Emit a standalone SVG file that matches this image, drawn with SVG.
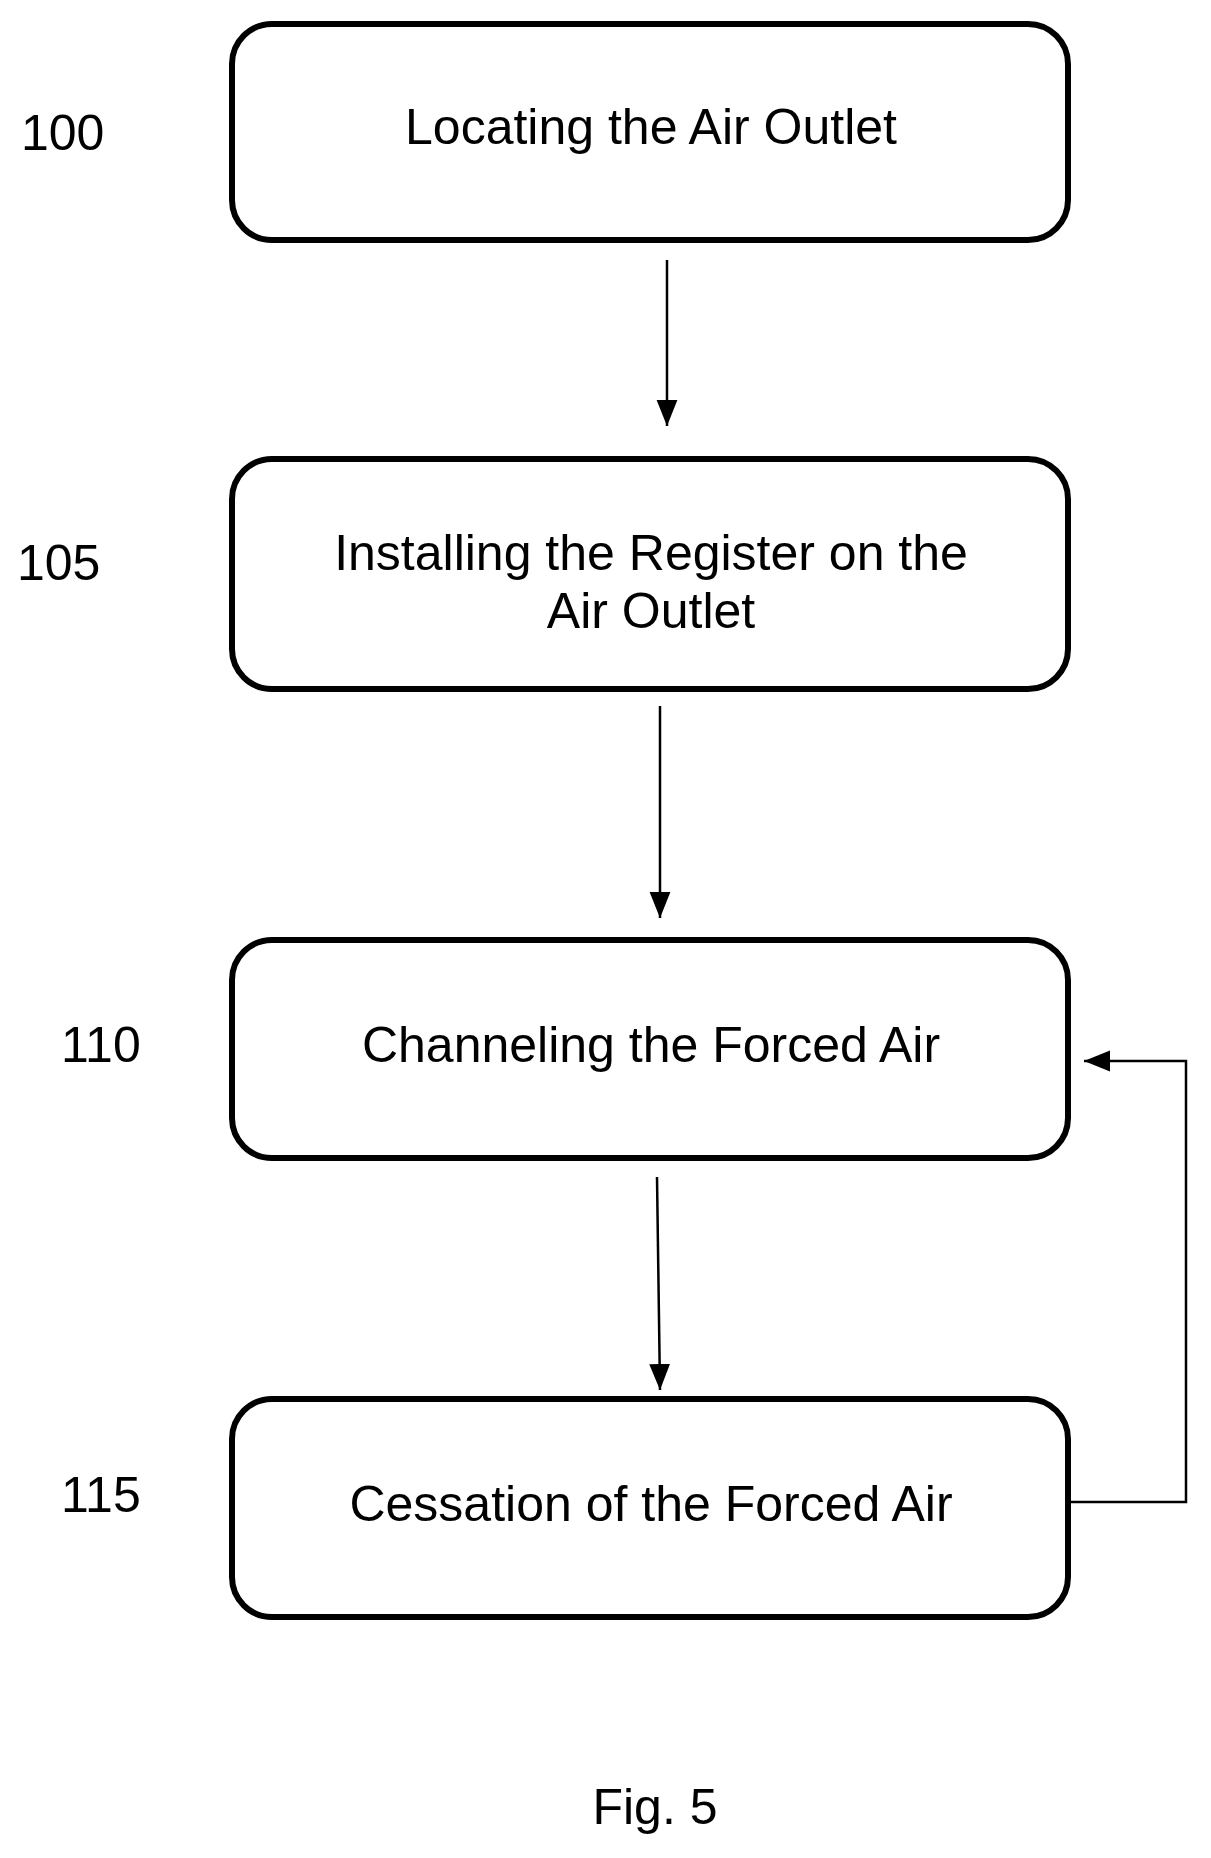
<svg xmlns="http://www.w3.org/2000/svg" width="1211" height="1858" viewBox="0 0 1211 1858">
<style>
.b{fill:#fff;stroke:#000;stroke-width:6}
.t{font-family:"Liberation Sans",Arial,sans-serif;font-size:50px;fill:#000;text-anchor:middle}
.l{font-family:"Liberation Sans",Arial,sans-serif;font-size:50px;fill:#000}
.c{fill:none;stroke:#000;stroke-width:2.5}
</style>
<defs><marker id="ah" viewBox="0 0 10 10" refX="10" refY="5" markerWidth="26" markerHeight="26" markerUnits="userSpaceOnUse" orient="auto"><path d="M0,1L10,5L0,9z"/></marker></defs>
<g id="n100"><rect class="b" x="232" y="24" width="836" height="216" rx="40"/><text class="t" x="651" y="144">Locating the Air Outlet</text><text class="l" x="21" y="150">100</text></g>
<g id="n105"><rect class="b" x="232" y="459" width="836" height="230" rx="40"/><text class="t" x="651" y="570">Installing the Register on the</text><text class="t" x="651" y="628">Air Outlet</text><text class="l" x="17" y="580">105</text></g>
<g id="n110"><rect class="b" x="232" y="940" width="836" height="218" rx="40"/><text class="t" x="651" y="1062">Channeling the Forced Air</text><text class="l" x="61" y="1062">110</text></g>
<g id="n115"><rect class="b" x="232" y="1399" width="836" height="218" rx="40"/><text class="t" x="651" y="1521">Cessation of the Forced Air</text><text class="l" x="61" y="1512">115</text></g>
<text class="t" x="655" y="1824">Fig. 5</text>
<g id="connectors">
<path class="c" d="M667,260V426" marker-end="url(#ah)"/>
<path class="c" d="M660,706V918" marker-end="url(#ah)"/>
<path class="c" d="M657,1177L660,1390" marker-end="url(#ah)"/>
<path class="c" d="M1068,1502H1186V1061H1084" marker-end="url(#ah)"/>
</g>
</svg>
